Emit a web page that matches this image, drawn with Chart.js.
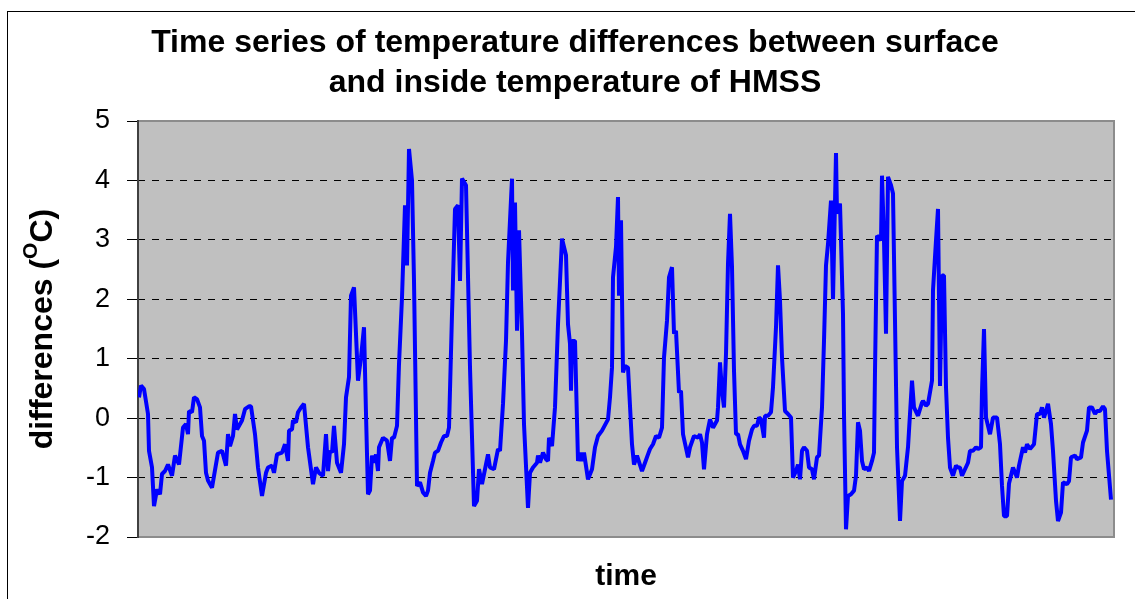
<!DOCTYPE html>
<html>
<head>
<meta charset="utf-8">
<script src="https://cdn.jsdelivr.net/npm/chart.js@4.4.0/dist/chart.umd.min.js"></script>
<style>
body { margin: 0; background: #fff; }
canvas { display: block; }
</style>
</head>
<body>
<canvas id="grafico" width="1135" height="599"></canvas>
<script>
// titulo del grafico (dos lineas)
var tituloLineas = ['Time series of temperature differences between surface', 'and inside temperature of HMSS'];
var tituloX = 'time';
var tituloY = ['differences (', 'O', 'C)'];

// valores del eje y
var yMin = -2;
var yMax = 5;

// paso de tiempo (sin etiquetas en el eje x) y diferencia de temperatura en oC
var timeSteps = [
    1, 3, 6, 10, 11, 14, 16, 19, 22, 24, 27, 30, 34, 37, 41, 45, 48, 50, 51, 54, 56, 59, 62, 64, 66, 68, 70, 74, 80, 84, 88, 90, 92, 95, 97, 99, 104, 107,
    111, 113, 117, 120, 124, 128, 130, 134, 136, 139, 144, 147, 150, 151, 154, 155, 158, 160, 163, 166, 170, 175, 178, 181, 185, 188, 190, 192, 194, 196, 199, 203, 206, 208, 211, 213, 216,
    220, 223, 226, 228, 230, 232, 234, 236, 238, 240, 241, 245, 249, 252, 254, 256, 259, 261, 264, 267, 269, 271, 274, 276, 279, 282, 285, 288, 290, 292, 295, 297, 300, 303, 306, 309, 311, 314, 317, 320, 322, 324, 328,
    332, 336, 339, 341, 344, 347, 350, 352, 356, 360, 362, 365, 368, 370, 374, 375, 377, 379, 381, 384, 386, 390, 392, 395, 399, 400, 402, 405, 408, 410, 411, 414, 417, 420, 424, 428, 430, 432, 433, 434, 437,
    440, 442, 444, 446, 450, 454, 457, 460, 464, 470, 472, 474, 475, 478, 480, 481, 483, 485, 487, 490, 494, 496, 499, 504, 507, 510, 512, 515, 518, 521, 524, 526, 529, 531, 534, 536, 538, 541, 543, 545,
    550, 552, 556, 560, 562, 564, 566, 569, 572, 575, 579, 580, 582, 584, 586, 588, 590, 592, 594, 596, 598, 600, 602, 605, 608, 611, 614, 616, 619, 621, 623, 626, 627, 630, 633, 635, 638, 640, 642, 644, 647, 650, 653, 655,
    658, 660, 662, 664, 666, 669, 671, 674, 676, 679, 681, 684, 686, 688, 690, 693, 695, 698, 699, 702, 705, 706, 708, 710, 713, 716, 718, 720, 722, 724, 726, 729, 731, 734, 736, 737, 739, 741, 743, 744, 746, 748, 750, 753, 755, 757, 759, 762, 764, 767,
    770, 774, 776, 780, 784, 785, 788, 790, 794, 795, 798, 800, 801, 802, 804, 806, 808, 810, 812, 815, 818, 820, 822, 824, 827, 830, 832, 835, 838, 840, 843, 844, 846, 848, 850, 852, 855, 859, 862, 864, 866, 869, 871,
    875, 879, 881, 885, 887, 889, 892, 896, 899, 902, 904, 906, 908, 910, 913, 915, 918, 920, 923, 925, 929, 931, 933, 937, 939, 943, 945, 949, 951, 954, 957, 959, 962, 965, 967, 969, 973
];
var timeMax = 976;

var differences = [
    0.35, 0.55, 0.49, 0.07, -0.55, -0.83, -1.48, -1.2, -1.28, -0.94, -0.89, -0.78, -0.97, -0.63, -0.78, -0.16, -0.1, -0.27, 0.12, 0.1, 0.35, 0.32, 0.18, -0.3, -0.38, -0.92, -1.05, -1.17, -0.58, -0.55, -0.8, -0.27, -0.47, -0.3, 0.07, -0.19, -0.04, 0.15,
    0.2, 0.2, -0.27, -0.83, -1.31, -0.92, -0.83, -0.8, -0.92, -0.61, -0.58, -0.44, -0.72, -0.21, -0.19, -0.04, -0.07, 0.1, 0.18, 0.24, -0.49, -1.11, -0.83, -0.92, -0.97, -0.27, -0.89, -0.55, -0.58, -0.13, -0.75, -0.92, -0.44, 0.35, 0.69, 2.06, 2.2,
    0.63, 1.02, 1.53, 0.07, -1.28, -1.22, -0.63, -0.75, -0.61, -0.89, -0.49, -0.33, -0.38, -0.72, -0.33, -0.33, -0.13, 0.91, 2.03, 3.58, 2.57, 4.53, 4.0, 2.31, -1.14, -1.08, -1.25, -1.31, -1.22, -0.92, -0.72, -0.58, -0.55, -0.41, -0.3, -0.3, -0.16, 1.75, 3.52, 3.58, 2.31, 4.03, 3.92,
    0.85, -1.48, -1.39, -0.86, -1.11, -0.86, -0.61, -0.83, -0.86, -0.52, -0.55, 0.24, 1.3, 2.62, 4.03, 2.15, 3.63, 1.47, 3.16, 1.42, -0.1, -1.51, -0.92, -0.83, -0.75, -0.63, -0.75, -0.58, -0.69, -0.72, -0.33, -0.47, 0.18, 1.58, 3.02, 2.74, 1.58, 1.25, 0.46, 1.3, 1.3,
    -0.72, -0.58, -0.72, -0.58, -1.03, -0.86, -0.49, -0.3, -0.21, -0.02, 0.35, 0.85, 2.37, 2.88, 3.72, 2.06, 3.33, 0.77, 0.88, 0.85, -0.44, -0.78, -0.63, -0.89, -0.75, -0.61, -0.52, -0.44, -0.3, -0.33, -0.16, 1.02, 1.64, 2.37, 2.54, 1.42, 1.47, 0.43, 0.46, -0.27,
    -0.66, -0.49, -0.3, -0.33, -0.27, -0.41, -0.86, -0.27, -0.02, -0.16, -0.04, 0.18, 0.94, 0.46, 0.18, 1.08, 2.6, 3.44, 2.54, 0.8, -0.27, -0.27, -0.44, -0.55, -0.69, -0.38, -0.19, -0.13, -0.13, 0.01, -0.02, -0.33, 0.04, 0.04, 0.1, 0.52, 1.53, 2.57, 1.98, 1.02, 0.12, 0.07, 0.01, -1.0,
    -0.89, -0.78, -1.03, -0.55, -0.49, -0.55, -0.83, -0.86, -1.03, -0.66, -0.63, 0.18, 1.3, 2.57, 2.93, 3.66, 2.0, 4.46, 3.44, 3.61, 1.75, 0.07, -1.87, -1.31, -1.28, -1.22, -0.97, -0.07, -0.21, -0.72, -0.86, -0.83, -0.89, -0.72, -0.58, 0.8, 3.07, 3.04, 2.99, 4.08, 2.99, 1.42, 4.06, 3.92, 3.78, 1.64, -0.49, -1.73, -1.06, -0.97,
    -0.49, 0.63, 0.18, 0.04, 0.26, 0.29, 0.21, 0.24, 0.63, 2.15, 2.99, 3.52, 2.03, 0.54, 2.4, 2.4, 0.52, -0.33, -0.83, -0.97, -0.8, -0.83, -0.83, -0.97, -0.86, -0.75, -0.55, -0.55, -0.49, -0.52, -0.49, 0.46, 1.5, 0.01, -0.13, -0.27, 0.01, 0.01, -0.44, -1.14, -1.65, -1.65, -1.1,
    -0.83, -1.0, -0.8, -0.49, -0.58, -0.44, -0.52, -0.44, 0.07, 0.07, 0.18, 0.01, 0.12, 0.24, -0.1, -0.55, -1.39, -1.73, -1.59, -1.08, -1.11, -1.06, -0.66, -0.63, -0.69, -0.66, -0.41, -0.21, 0.18, 0.18, 0.07, 0.12, 0.12, 0.2, 0.15, -0.55, -1.37
];

var fuente = '"Liberation Sans", Arial, sans-serif';

var puntos = [];
for (var i = 0; i < timeSteps.length; i++) {
    puntos.push({ x: timeSteps[i], y: differences[i] });
}

// fondo gris, marco y titulo del eje y (con el superindice)
var marco = {
    id: 'marco',
    beforeDraw: function(chart) {
        var ctx = chart.ctx;
        var a = chart.chartArea;
        ctx.save();
        ctx.fillStyle = '#ffffff';
        ctx.fillRect(0, 0, chart.width, chart.height);
        ctx.strokeStyle = '#000000';
        ctx.lineWidth = 1;
        ctx.strokeRect(7.5, 11.5, 1200, 700);
        ctx.fillStyle = '#c0c0c0';
        ctx.fillRect(a.left, a.top, a.right - a.left, a.bottom - a.top);
        ctx.restore();
    },
    beforeDatasetsDraw: function(chart) {
        var ctx = chart.ctx;
        var a = chart.chartArea;
        ctx.save();
        ctx.strokeStyle = '#8c8c8c';
        ctx.lineWidth = 2;
        ctx.strokeRect(a.left, a.top, a.right - a.left, a.bottom - a.top);
        ctx.strokeStyle = '#404040';
        ctx.beginPath();
        ctx.moveTo(a.left, a.top - 1);
        ctx.lineTo(a.left, a.bottom + 1);
        ctx.stroke();
        ctx.restore();
    },
    afterDraw: function(chart) {
        var ctx = chart.ctx;
        var a = chart.chartArea;
        var grande = 'bold 32px ' + fuente;
        var chica = 'bold 21px ' + fuente;
        ctx.save();
        ctx.translate(52, (a.top + a.bottom) / 2);
        ctx.rotate(-Math.PI / 2);
        ctx.fillStyle = '#000000';
        ctx.textAlign = 'left';
        ctx.textBaseline = 'alphabetic';
        ctx.font = grande;
        var w1 = ctx.measureText(tituloY[0]).width;
        var w3 = ctx.measureText(tituloY[2]).width;
        ctx.font = chica;
        var w2 = ctx.measureText(tituloY[1]).width;
        var x = -(w1 + w2 + w3) / 2;
        ctx.font = grande;
        ctx.fillText(tituloY[0], x, 0);
        x += w1;
        ctx.font = chica;
        ctx.fillText(tituloY[1], x, -15);
        x += w2;
        ctx.font = grande;
        ctx.fillText(tituloY[2], x, 0);
        ctx.restore();
    }
};

var ctx = document.getElementById('grafico').getContext('2d');
var myChart = new Chart(ctx, {
    type: 'line',
    data: {
        datasets: [{
            data: puntos,
            borderColor: '#0000ff',
            borderWidth: 4,
            borderJoinStyle: 'bevel',
            pointRadius: 0,
            tension: 0,
            fill: false
        }]
    },
    options: {
        responsive: false,
        animation: false,
        devicePixelRatio: 1,
        layout: { padding: { left: 36, right: 21, top: 0, bottom: 0 } },
        plugins: {
            legend: { display: false },
            tooltip: { enabled: false },
            title: {
                display: true,
                text: tituloLineas,
                color: '#000000',
                font: { family: fuente, size: 32, weight: 'bold', lineHeight: 40 / 32 },
                padding: { top: 23, bottom: 18 }
            }
        },
        scales: {
            x: {
                type: 'linear',
                min: 0,
                max: timeMax,
                ticks: { display: false },
                grid: { display: false },
                border: { display: false },
                title: {
                    display: true,
                    text: tituloX,
                    color: '#000000',
                    font: { family: fuente, size: 30, weight: 'bold' },
                    padding: { top: 0, bottom: 4 }
                },
                afterFit: function(s) { s.height = 62; }
            },
            y: {
                min: yMin,
                max: yMax,
                ticks: {
                    stepSize: 1,
                    color: '#000000',
                    font: { family: fuente, size: 27 },
                    padding: 17,
                    callback: function(v) { return String(v); }
                },
                grid: {
                    color: function(c) {
                        if (c.tick && (c.tick.value === yMax || c.tick.value === yMin)) return 'rgba(0,0,0,0)';
                        return '#000000';
                    },
                    lineWidth: 1,
                    tickLength: 11,
                    tickColor: '#000000',
                    tickWidth: 1,
                    tickBorderDash: []
                },
                border: { display: false, dash: [7, 7] },
                afterFit: function(s) { s.width = 102; }
            }
        }
    },
    plugins: [marco]
});
</script>
</body>
</html>
